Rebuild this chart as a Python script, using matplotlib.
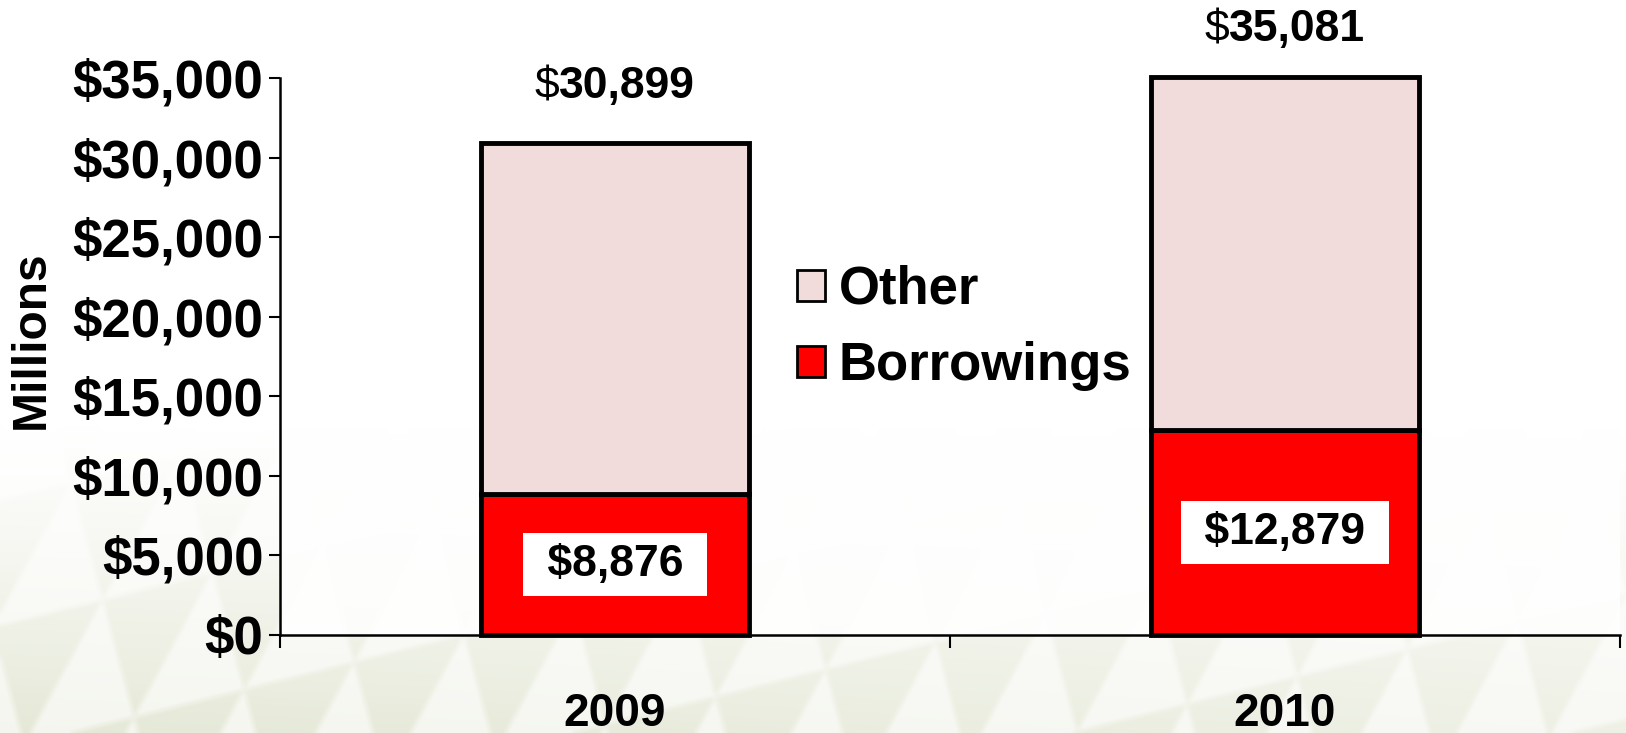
import numpy as np
import matplotlib
matplotlib.use("Agg")
import matplotlib.pyplot as plt
from matplotlib.patches import Patch
from matplotlib.offsetbox import TextArea, HPacker, AnnotationBbox

plt.rcParams["font.family"] = ["Liberation Sans", "DejaVu Sans"]

years = ["2009", "2010"]
borrowings = [8876, 12879]
other = [22023, 22202]
totals = [30899, 35081]
y_ticks = [0, 5000, 10000, 15000, 20000, 25000, 30000, 35000]

OTHER_COLOR = "#F2DCDB"
BORROW_COLOR = "#FF0000"


def box_blur(a, r):
    # separable moving average, edges padded
    k = np.ones(2 * r + 1) / (2 * r + 1)
    a = np.pad(a, r, mode="edge")
    a = np.apply_along_axis(lambda m: np.convolve(m, k, mode="valid"), 0, a)
    a = np.apply_along_axis(lambda m: np.convolve(m, k, mode="valid"), 1, a)
    return a


fig = plt.figure(figsize=(16.26, 7.33), dpi=100)

# slide background: pale olive triangles fading in towards the bottom
bg = fig.add_axes([0, 0, 1, 1], zorder=-10)
h, w = 733, 1626
yy, xx = np.mgrid[0:h, 0:w].astype(float)
row_h, base = 125.0, 105.0
row = np.floor((yy + 0.25 * xx) / row_h)
v = ((yy + 0.25 * xx) % row_h) / row_h
u = ((xx + 0.18 * yy + row * base / 2) % base) - base / 2
inside = np.abs(u) < v * base / 2
shade = np.where(inside, 0.35, 0.85)
shade = box_blur(shade, 3)
fade = np.clip((yy - 420) / 313.0, 0, 1) ** 1.2
fade *= 1.0 - 0.35 * (xx / w)
alpha = np.clip(0.55 * fade * shade, 0, 1)
img = np.zeros((h, w, 4))
img[..., 0] = 0.78
img[..., 1] = 0.81
img[..., 2] = 0.66
img[..., 3] = alpha
bg.imshow(np.ones((h, w, 3)), extent=(0, 1, 0, 1), aspect="auto")
bg.imshow(img, extent=(0, 1, 0, 1), aspect="auto")
bg.set_axis_off()

ax = fig.add_axes([0.1722, 0.1337, 0.8241, 0.7599])
ax.patch.set_facecolor("white")
ax.patch.set_alpha(0.85)

x = np.arange(len(years))
ax.bar(x, borrowings, width=0.4, color=BORROW_COLOR, edgecolor="black",
       linewidth=3.5, clip_on=False, zorder=3)
ax.bar(x, other, width=0.4, bottom=borrowings, color=OTHER_COLOR,
       edgecolor="black", linewidth=3.5, clip_on=False, zorder=3)

ax.set_xlim(-0.5, 1.5)
ax.set_ylim(0, 35000)

# borrowings values in white boxes
for xi, b in zip(x, borrowings):
    ax.text(xi, b / 2, f" ${b:,} ", ha="center", va="center", fontsize=32,
            fontweight="bold", zorder=5,
            bbox=dict(boxstyle="square,pad=0.25", fc="white", ec="none"))

# totals above the bars: plain dollar sign, bold digits
total_offsets = [26, 19]
for xi, t, off in zip(x, totals, total_offsets):
    pack = HPacker(children=[
        TextArea("$", textprops=dict(fontsize=32, color="black")),
        TextArea(f"{t:,}", textprops=dict(fontsize=32, fontweight="bold",
                                          color="black")),
    ], pad=0, sep=0, align="baseline")
    ab = AnnotationBbox(pack, (xi, t), xybox=(0, off), xycoords="data",
                        boxcoords="offset points", frameon=False,
                        box_alignment=(0.5, 0), annotation_clip=False)
    ax.add_artist(ab)

ax.set_yticks(y_ticks)
ax.set_yticklabels([f"${v:,}" for v in y_ticks], fontsize=38,
                   fontweight="bold")
ax.tick_params(axis="y", length=8, width=1.5, pad=4)

ax.set_xticks(x)
ax.set_xticklabels(years, fontsize=33, fontweight="bold")
ax.tick_params(axis="x", which="major", length=0, pad=41)
ax.set_xticks([-0.5, 0.5, 1.5], minor=True)
ax.tick_params(axis="x", which="minor", length=9, width=1.5)

for side in ["top", "right"]:
    ax.spines[side].set_visible(False)
for side in ["left", "bottom"]:
    ax.spines[side].set_linewidth(1.8)

fig.text(31 / 1626, 1 - 340 / 733, "Millions", rotation=90, ha="center",
         va="center", fontsize=34.5, fontweight="bold")

handles = [Patch(facecolor=OTHER_COLOR, edgecolor="black", linewidth=2),
           Patch(facecolor=BORROW_COLOR, edgecolor="black", linewidth=2)]
ax.legend(handles, ["Other", "Borrowings"], loc="center left",
          bbox_to_anchor=(0.386, 0.551), frameon=False,
          prop=dict(size=38, weight="bold"), handlelength=0.53,
          handleheight=0.53, handletextpad=0.26, labelspacing=0.5,
          borderaxespad=0, borderpad=0)

fig.savefig("out.png", dpi=100)
